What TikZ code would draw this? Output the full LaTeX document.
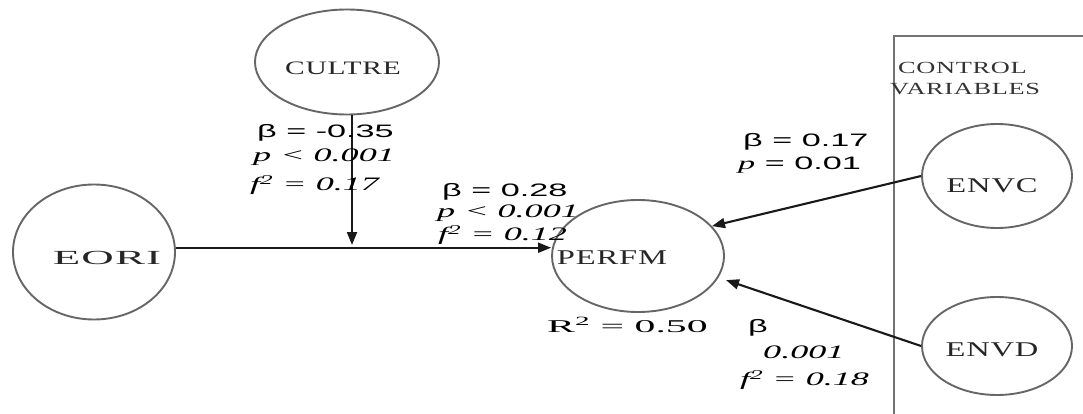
\documentclass[tikz,border=0pt]{standalone}
\usepackage{fontspec}
\setmainfont{Liberation Serif}
\newfontfamily\nmfont[FakeStretch=1.55,LetterSpace=4]{Liberation Serif}
\newfontfamily\sfl[FakeStretch=1.9]{Liberation Sans}
\newfontfamily\sel[FakeStretch=1.9]{Liberation Serif}
\usetikzlibrary{shapes.geometric,arrows.meta}
\tikzset{
  latent/.style={draw=black!60, line width=1.9pt, ellipse, inner sep=0pt},
  arr/.style={-{Triangle[length=13pt,width=10pt]}, line width=2.1pt, black!90},
  lab/.style={anchor=west, inner sep=0pt, font=\sfl\fontsize{18}{20}\selectfont},
  ilab/.style={anchor=west, inner sep=0pt, font=\sel\itshape\fontsize{19}{21}\selectfont},
  nm/.style={inner sep=0pt, font=\nmfont\fontsize{19}{21}\selectfont, text=black!85},
  boxline/.style={draw=black!55, line width=1.9pt}
}
\begin{document}
\begin{tikzpicture}[x=1pt,y=-1pt]
\useasboundingbox (0,0) rectangle (1083,414);
% control box
\coordinate (bxr) at (1083,36);
\coordinate (bxl) at (894,36);
\coordinate (bxb) at (894,414);
\draw[boxline] (bxr) -- (bxl) -- (bxb);
\node[anchor=west, inner sep=0pt, font=\nmfont\fontsize{17}{19}\selectfont, text=black!80] (ctl1) at (898,68) {CONTROL};
\node[anchor=west, inner sep=0pt, font=\nmfont\fontsize{17}{19}\selectfont, text=black!80] (ctl2) at (890,89) {VARIABLES};
% latent variables
\node[latent, minimum width=184pt, minimum height=105pt] (cultre) at (347,62) {};
\node[latent, minimum width=162pt, minimum height=135pt] (eori) at (94,252) {};
\node[latent, minimum width=172pt, minimum height=112pt] (perfm) at (638,256) {};
\node[latent, minimum width=150pt, minimum height=104pt] (envc) at (997,176) {};
\node[latent, minimum width=150pt, minimum height=98pt] (envd) at (997,346) {};
\node[nm] (cultreT) at (343,68) {CULTRE};
\node[nm, font=\nmfont\fontsize{20}{22}\selectfont] (eoriT) at (107,258) {\scalebox{1.45}[1]{EORI}};
\node[nm, font=\nmfont\fontsize{21}{23}\selectfont] (perfmT) at (612,258) {PERFM};
\node[nm, font=\nmfont\fontsize{21}{23}\selectfont] (envcT) at (992,186) {ENVC};
\node[nm, font=\nmfont\fontsize{21}{23}\selectfont] (envdT) at (992,350) {ENVD};
% connectors
\coordinate (vt) at (352,245);
\draw[arr] (eori.3.5) -- (eori.3.5 -| perfm.west);
\draw[arr] (cultre.south -| vt) -- (vt);
\draw[arr] (envc.west) -- (perfm.22);
\draw[arr, shorten >=8pt] (envd.west) -- (perfm.-15);
% labels
\node[lab] (l1a) at (257,133) {β = -0.35};
\node[ilab] (l1b) at (253,157) {p < 0.001};
\node[ilab] (l1c) at (250,185) {f\textsuperscript{2} = 0.17};
\node[lab] (l2a) at (442,192) {β = 0.28};
\node[ilab] (l2b) at (437,213) {p < 0.001};
\node[ilab] (l2c) at (438,235) {f\textsuperscript{2} = 0.12};
\node[lab] (l3a) at (743,142) {β = 0.17};
\node[lab] (l3b) at (738,165) {{\sel\itshape p} = 0.01};
\node[anchor=west, inner sep=0pt, font=\sel\fontsize{18}{20}\selectfont] (r2) at (547,325) {\scalebox{1.22}[1]{R\textsuperscript{2} = 0.50}};
\node[lab] (l4a) at (748,328) {β};
\node[ilab] (l4b) at (763,352) {0.001};
\node[ilab] (l4c) at (740,380) {f\textsuperscript{2} = 0.18};
\end{tikzpicture}
\end{document}
